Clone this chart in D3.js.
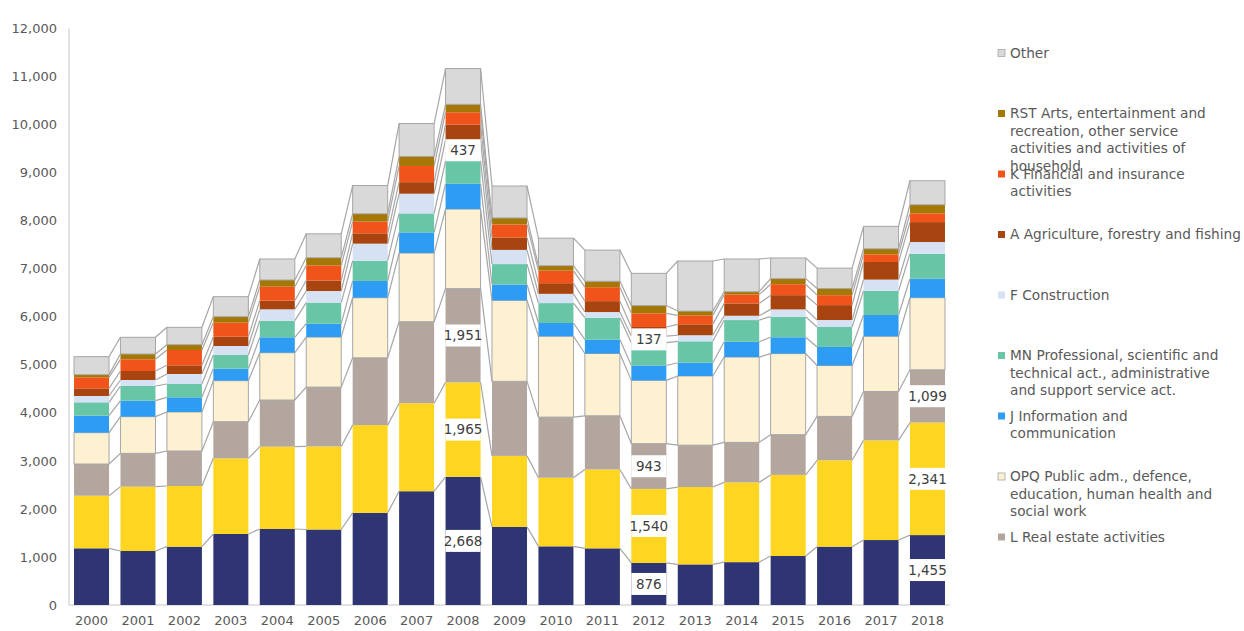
<!DOCTYPE html>
<html>
<head>
<meta charset="utf-8">
<script src="https://cdn.jsdelivr.net/npm/d3@7"></script>
<style>
  body { margin: 0; background: #fff; }
  svg { display: block; font-family: "DejaVu Sans", sans-serif; }
</style>
</head>
<body>
<svg id="chart" width="1244" height="631"></svg>
<script>
// Employment by branch, thousands, stacked bottom to top
const years = ["2000","2001","2002","2003","2004","2005","2006","2007","2008","2009",
               "2010","2011","2012","2013","2014","2015","2016","2017","2018"];

const industry     = [1180,1124,1214,1478,1582,1571,1918,2368,2668,1625,1221,1179, 876, 845, 892,1020,1214,1352,1455];
const trade        = [1095,1339,1263,1574,1713,1729,1826,1832,1965,1478,1427,1642,1540,1610,1660,1688,1798,2075,2341];
const realEstate   = [ 659, 693, 728, 763, 971,1235,1401,1696,1951,1552,1262,1117, 943, 872, 833, 837, 913,1017,1099];
const publicAdm    = [ 653, 764, 812, 854, 985,1041,1250,1429,1656,1685,1683,1296,1316,1439,1775,1687,1059,1148,1500];
const infoComm     = [ 353, 333, 305, 250, 320, 278, 349, 430, 525, 330, 276, 290, 310, 276, 318, 340, 387, 443, 394];
const professional = [ 278, 305, 277, 284, 346, 439, 421, 395, 480, 425, 414, 455, 475, 446, 452, 428, 415, 503, 521];
const construction = [ 132, 125, 209, 187, 236, 241, 355, 410, 437, 295, 193, 118, 137, 126,  90, 152, 145, 234, 244];
const agriculture  = [ 159, 187, 180, 194, 181, 220, 215, 240, 313, 260, 221, 227, 189, 227, 257, 296, 310, 366, 415];
const financial    = [ 229, 243, 319, 292, 291, 312, 245, 337, 260, 270, 262, 290, 284, 187, 183, 228, 207, 159, 181];
const arts         = [  56, 111, 111, 125, 139, 162, 163, 198, 165, 135, 103, 124, 162,  89,  60, 117, 138, 117, 180];
const other        = [ 374, 347, 361, 416, 437, 497, 587, 685, 745, 665, 572, 648, 670,1042, 681, 429, 424, 466, 500];

const yTicks = [0,1000,2000,3000,4000,5000,6000,7000,8000,9000,10000,11000,12000];

// series in stacking order (bottom first)
const series = [
  { key: "industry",     values: industry,     color: "#2e3572" },
  { key: "trade",        values: trade,        color: "#fed520" },
  { key: "realEstate",   values: realEstate,   color: "#b3a69e" },
  { key: "publicAdm",    values: publicAdm,    color: "#fef1d2", stroke: true },
  { key: "infoComm",     values: infoComm,     color: "#2e9cf2" },
  { key: "professional", values: professional, color: "#68c6a6" },
  { key: "construction", values: construction, color: "#d6e2f3" },
  { key: "agriculture",  values: agriculture,  color: "#a8440f" },
  { key: "financial",    values: financial,    color: "#f0541a" },
  { key: "arts",         values: arts,         color: "#a57806" },
  { key: "other",        values: other,        color: "#d9d9d9", stroke: true }
];

// legend entries, top to bottom, with their line breaks
const legendItems = [
  { key: "other",        lines: ["Other"] },
  { key: "arts",         lines: ["RST Arts, entertainment and", "recreation, other service", "activities and activities of", "household"] },
  { key: "financial",    lines: ["K Financial and insurance", "activities"] },
  { key: "agriculture",  lines: ["A Agriculture, forestry and fishing"] },
  { key: "construction", lines: ["F Construction"] },
  { key: "professional", lines: ["MN Professional, scientific and", "technical act., administrative", "and support service act."] },
  { key: "infoComm",     lines: ["J Information and", "communication"] },
  { key: "publicAdm",    lines: ["OPQ Public adm., defence,", "education, human health and", "social work"] },
  { key: "realEstate",   lines: ["L Real estate activities"] }
];

// value labels shown on selected bars
const labelYears  = ["2008", "2012", "2018"];
const labelSeries = {
  "2008": ["industry", "trade", "realEstate", "construction"],
  "2012": ["industry", "trade", "realEstate", "construction"],
  "2018": ["industry", "trade", "realEstate"]
};

const svg = d3.select("#chart");
const fmt = d3.format(",");

const x = d3.scaleBand().domain(years).range([69, 950]).paddingInner(0.246).paddingOuter(0.108);
const y = d3.scaleLinear().domain([0, 12000]).range([605, 28.4]);
const bw = x.bandwidth();

const table = years.map((yr, i) => {
  const row = { year: yr };
  series.forEach(s => row[s.key] = s.values[i]);
  return row;
});
const stacked = d3.stack().keys(series.map(s => s.key))(table);
const colorOf = Object.fromEntries(series.map(s => [s.key, s.color]));
const strokeOf = Object.fromEntries(series.map(s => [s.key, !!s.stroke]));

// axes
const yAxis = svg.append("g").attr("transform", "translate(69,0)")
  .call(d3.axisLeft(y).tickValues(yTicks).tickFormat(fmt).tickSize(0).tickPadding(12));
yAxis.select(".domain").remove();
yAxis.selectAll("text").attr("fill", "#595959").style("font-size", "13px")
  .style("font-family", "'DejaVu Sans', sans-serif");

svg.append("line").attr("x1", 69).attr("x2", 69).attr("y1", y(12000)).attr("y2", y(0))
  .attr("stroke", "#d9d9d9").attr("stroke-width", 1.5);

const xAxis = svg.append("g").attr("transform", "translate(0,605)")
  .call(d3.axisBottom(x).tickSize(0).tickPadding(11));
xAxis.select(".domain").remove();
xAxis.selectAll("text").attr("fill", "#595959").style("font-size", "13px")
  .style("font-family", "'DejaVu Sans', sans-serif");

svg.append("line").attr("x1", 69).attr("x2", 950).attr("y1", y(0)).attr("y2", y(0))
  .attr("stroke", "#d9d9d9").attr("stroke-width", 1.5);

// stacked bars
const layers = svg.append("g").selectAll("g").data(stacked).join("g")
  .attr("fill", d => colorOf[d.key]);
layers.selectAll("rect").data(d => d.map(p => ({ p, key: d.key }))).join("rect")
  .attr("x", d => x(d.p.data.year))
  .attr("width", bw)
  .attr("y", d => y(d.p[1]))
  .attr("height", d => y(d.p[0]) - y(d.p[1]))
  .attr("stroke", d => strokeOf[d.key] ? "#a6a6a6" : "none")
  .attr("stroke-width", 1);

// series lines joining segment tops of neighbouring bars
const lines = svg.append("g").attr("stroke", "#a6a6a6").attr("stroke-width", 1.2).attr("fill", "none");
stacked.forEach(layer => {
  for (let i = 0; i < layer.length - 1; i++) {
    lines.append("line")
      .attr("x1", x(years[i]) + bw).attr("y1", y(layer[i][1]))
      .attr("x2", x(years[i + 1])).attr("y2", y(layer[i + 1][1]));
  }
});

// value labels
const labelG = svg.append("g");
labelYears.forEach(yr => {
  const i = years.indexOf(yr);
  labelSeries[yr].forEach(key => {
    const layer = stacked.find(l => l.key === key);
    const p = layer[i];
    const cy = y((p[0] + p[1]) / 2);
    labelG.append("rect").attr("x", x(yr)).attr("width", bw)
      .attr("y", cy - 11).attr("height", 22).attr("fill", "#fff");
    labelG.append("text").attr("x", x(yr) + bw / 2).attr("y", cy).attr("dy", "0.36em")
      .attr("text-anchor", "middle").attr("fill", "#404040").style("font-size", "13.5px")
      .text(fmt(p[1] - p[0]));
  });
});

// legend
const legend = svg.append("g");
legendItems.forEach((item, k) => {
  const cy = 53 + k * 60.5;
  legend.append("rect").attr("x", 998).attr("y", cy - 3.5).attr("width", 7).attr("height", 7)
    .attr("fill", colorOf[item.key])
    .attr("stroke", strokeOf[item.key] ? "#a6a6a6" : "none").attr("stroke-width", 0.8);
  item.lines.forEach((ln, j) => {
    legend.append("text").attr("x", 1010).attr("y", cy + j * 17.5).attr("dy", "0.36em")
      .attr("fill", "#595959").style("font-size", "13.7px").text(ln);
  });
});
</script>
</body>
</html>
